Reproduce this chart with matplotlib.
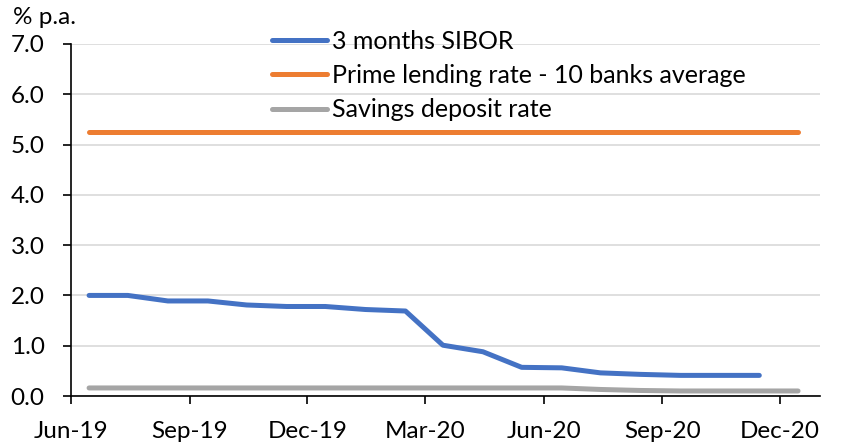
import matplotlib
matplotlib.use("Agg")
import matplotlib.pyplot as plt
import matplotlib.dates as mdates
import pandas as pd

months_all = pd.date_range("2019-06-01", periods=19, freq="MS") + pd.Timedelta(days=14)
sibor = [2.00, 2.00, 1.89, 1.89, 1.81, 1.78, 1.78, 1.72, 1.69, 1.01, 0.88, 0.57,
         0.56, 0.46, 0.43, 0.41, 0.41, 0.41]
prime = [5.25] * 19
savings = [0.16, 0.16, 0.16, 0.16, 0.16, 0.16, 0.16, 0.16, 0.16, 0.16, 0.16, 0.16,
           0.16, 0.13, 0.11, 0.10, 0.10, 0.10, 0.10]
labels = ["3 months SIBOR", "Prime lending rate - 10 banks average", "Savings deposit rate"]
tick_dates = pd.date_range("2019-06-01", "2020-12-01", freq="3MS")

plt.rcParams['font.family'] = ['Lato', 'DejaVu Sans']
fig = plt.figure(figsize=(8.41, 4.48), dpi=100)
ax = fig.add_axes([71/841, 1-396/448, (820-71)/841, (396-44)/448])

ax.plot(months_all[:len(sibor)], sibor, color="#4472C4", lw=3.6, solid_capstyle="round", label=labels[0])
ax.plot(months_all, prime, color="#ED7D31", lw=3.6, solid_capstyle="round", label=labels[1])
ax.plot(months_all, savings, color="#A5A5A5", lw=3.6, solid_capstyle="round", label=labels[2])

ax.set_ylim(0, 7)
ax.set_yticks([i for i in range(8)])
ax.set_yticklabels([f"{i:.1f}" for i in range(8)])
ax.set_xlim(pd.Timestamp("2019-06-01"), pd.Timestamp("2021-01-01"))
ax.set_xticks(tick_dates)
ax.xaxis.set_major_formatter(mdates.DateFormatter("%b-%y"))
ax.tick_params(labelsize=17.5, length=6, width=1.2, direction="out")
ax.tick_params(axis="x", pad=12)
ax.tick_params(axis="y", pad=13)
ax.grid(axis="y", color="#D9D9D9", lw=1.2)
ax.set_axisbelow(True)
for s in ["top", "right"]:
    ax.spines[s].set_visible(False)
for s in ["left", "bottom"]:
    ax.spines[s].set_linewidth(1.2)

fig.text(13/841, 1-18/448, "% p.a.", fontsize=17.5, va="center", ha="left")
leg = ax.legend(loc="upper left", bbox_to_anchor=((272-71)/749, 1.04), frameon=False,
                fontsize=18, handlelength=2.2, handletextpad=0.2, labelspacing=0.45,
                borderpad=0, borderaxespad=0)
fig.savefig("out.png", dpi=100)
